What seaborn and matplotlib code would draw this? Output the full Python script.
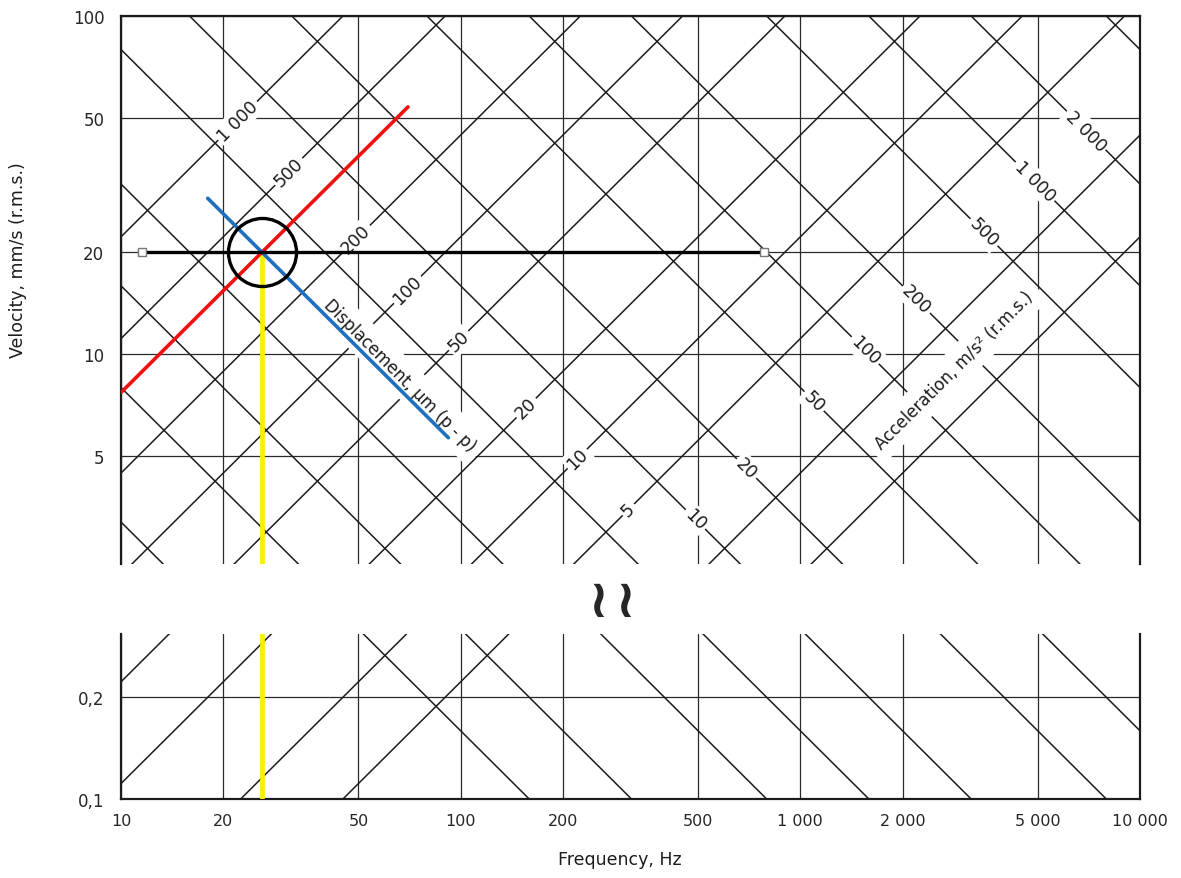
import numpy as np
import pandas as pd
import matplotlib
matplotlib.use("Agg")
import matplotlib.pyplot as plt
from matplotlib.ticker import NullLocator
import seaborn as sns

# axis scales
freq_ticks = [10, 20, 50, 100, 200, 500, 1000, 2000, 5000, 10000]
freq_tick_labels = ["10", "20", "50", "100", "200", "500", "1 000", "2 000", "5 000", "10 000"]
vel_ticks_upper = [5, 10, 20, 50, 100]
vel_labels_upper = ["5", "10", "20", "50", "100"]
vel_ticks_lower = [0.1, 0.2]
vel_labels_lower = ["0,1", "0,2"]

# constant displacement (um p-p) and acceleration (m/s2 rms) lines
displacement_um = [1, 2, 5, 10, 20, 50, 100, 200, 500, 1000]
displacement_labelled = [5, 10, 20, 50, 100, 200, 500, 1000]
acceleration_ms2 = [0.1, 0.2, 0.5, 1, 2, 5, 10, 20, 50, 100, 200, 500, 1000, 2000, 5000]
acceleration_labelled = [10, 20, 50, 100, 200, 500, 1000, 2000]

# worked example drawn over the chart
point_freq = 26        # Hz
point_vel = 20         # mm/s
read_line_freq = [11.5, 780]
red_freq = [10, 70]
blue_freq = [18, 92]

# nomogram relations: v [mm/s rms] from d [um p-p] and a [m/s2 rms]
C_D = np.pi / (np.sqrt(2) * 1000)
C_A = 1000 / (2 * np.pi)

def v_disp(d, f):
    return C_D * d * f

def v_acc(a, f):
    return C_A * a / f

def fmt(x):
    return f"{x:,}".replace(",", " ")

W, H = 1181, 879
F_LO, F_HI = 10, 10000
V_UP = (10 ** (2 - 548 / 338), 100)
V_LO = (0.1, 10 ** (-1 + 165 / 338))
INK = "#1c1c1c"

sns.set_style("white")
plt.rcParams["font.family"] = ["DejaVu Sans"]

fig = plt.figure(figsize=(W / 100, H / 100), dpi=100)
ax_top = fig.add_axes([121 / W, 1 - 565 / H, 1019 / W, 548 / H])
ax_bot = fig.add_axes([121 / W, 1 - 800 / H, 1019 / W, 165 / H])

disp_df = pd.DataFrame([(d, f, v_disp(d, f)) for d in displacement_um for f in (F_LO, F_HI)],
                       columns=["d", "f", "v"])
acc_df = pd.DataFrame([(a, f, v_acc(a, f)) for a in acceleration_ms2 for f in (F_LO, F_HI)],
                      columns=["a", "f", "v"])

for ax, ylim, yt, ytl in [(ax_top, V_UP, vel_ticks_upper, vel_labels_upper),
                          (ax_bot, V_LO, vel_ticks_lower, vel_labels_lower)]:
    ax.set_xscale("log")
    ax.set_yscale("log")
    sns.lineplot(data=disp_df, x="f", y="v", units="d", estimator=None, sort=False,
                 color=INK, lw=1.1, ax=ax, legend=False)
    sns.lineplot(data=acc_df, x="f", y="v", units="a", estimator=None, sort=False,
                 color=INK, lw=1.1, ax=ax, legend=False)
    ax.set_xlim(F_LO, F_HI)
    ax.set_ylim(*ylim)
    ax.set_xticks(freq_ticks)
    ax.set_yticks(yt)
    ax.set_yticklabels(ytl, fontsize=12)
    ax.xaxis.set_minor_locator(NullLocator())
    ax.yaxis.set_minor_locator(NullLocator())
    ax.grid(True, which="major", color="#2a2a2a", lw=0.9)
    ax.tick_params(length=0, pad=12)
    ax.set_xlabel("")
    ax.set_ylabel("")
    for s in ax.spines.values():
        s.set_color(INK)
        s.set_linewidth(1.6)

ax_top.set_xticklabels([])
ax_top.spines["bottom"].set_visible(False)
ax_bot.spines["top"].set_visible(False)
ax_bot.set_xticklabels(freq_tick_labels, fontsize=11.5)
ax_bot.tick_params(axis="x", pad=10)

box = dict(boxstyle="square,pad=0.15", facecolor="white", edgecolor="none")

# value labels: displacement along a falling diagonal, acceleration along a rising one
for d in displacement_labelled:
    f = np.sqrt(1080 / (C_D * d))
    ax_top.text(f, v_disp(d, f), fmt(d), rotation=45, rotation_mode="anchor",
                ha="center", va="center", fontsize=12.5, color=INK, bbox=box, zorder=4)
for a in acceleration_labelled:
    f = np.sqrt(C_A * a / 0.0066)
    ax_top.text(f, v_acc(a, f), fmt(a), rotation=-45, rotation_mode="anchor",
                ha="center", va="center", fontsize=12.5, color=INK, bbox=box, zorder=4)

band = dict(boxstyle="square,pad=0.5", facecolor="white", edgecolor="none")
ax_top.text(66, 8.7, "Displacement, µm (p - p)", rotation=-45, rotation_mode="anchor",
            ha="center", va="center", fontsize=12, color=INK, bbox=band, zorder=4)
ax_top.text(2840, 9.0, "Acceleration, m/s² (r.m.s.)", rotation=45, rotation_mode="anchor",
            ha="center", va="center", fontsize=12, color=INK, bbox=band, zorder=4)

# worked example
d_pt = point_vel / (C_D * point_freq)
a_pt = point_vel * point_freq / C_A
red_df = pd.DataFrame({"f": red_freq, "v": [v_disp(d_pt, f) for f in red_freq]})
blue_df = pd.DataFrame({"f": blue_freq, "v": [v_acc(a_pt, f) for f in blue_freq]})
read_df = pd.DataFrame({"f": read_line_freq, "v": [point_vel] * len(read_line_freq)})
yellow_df = pd.DataFrame({"f": [point_freq, point_freq], "v": [point_vel, V_UP[0]]})

sns.lineplot(data=yellow_df, x="f", y="v", estimator=None, sort=False, color="#f8f000",
             lw=3.4, ax=ax_top, zorder=5)
ax_bot.axvline(point_freq, color="#f8f000", lw=3.4, zorder=5)
sns.lineplot(data=red_df, x="f", y="v", estimator=None, sort=False, color="#ee1111",
             lw=2.6, ax=ax_top, zorder=6)
sns.lineplot(data=blue_df, x="f", y="v", estimator=None, sort=False, color="#1f6fbf",
             lw=2.6, ax=ax_top, zorder=6)
sns.lineplot(data=read_df, x="f", y="v", estimator=None, sort=False, color="black",
             lw=2.4, ax=ax_top, zorder=7)
ax_top.plot(read_line_freq, [point_vel] * 2, "s", ms=6, mfc="white", mec="#777777", mew=1, zorder=8)
ax_top.plot([point_freq], [point_vel], "o", ms=49, mfc="none", mec="black", mew=2.4, zorder=8)
ax_top.set_xlabel("")
ax_top.set_ylabel("")

fig.text(18 / W, 1 - 260 / H, "Velocity, mm/s (r.m.s.)", rotation=90, ha="center", va="center",
         fontsize=12.5, color=INK)
fig.text(620 / W, 1 - 860 / H, "Frequency, Hz", ha="center", va="center", fontsize=12.5, color=INK)
for bx in (598, 625):
    fig.text(bx / W, 1 - 602 / H, "≀", ha="center", va="center", fontsize=38, fontweight="bold")

fig.savefig("out.png", dpi=100)
